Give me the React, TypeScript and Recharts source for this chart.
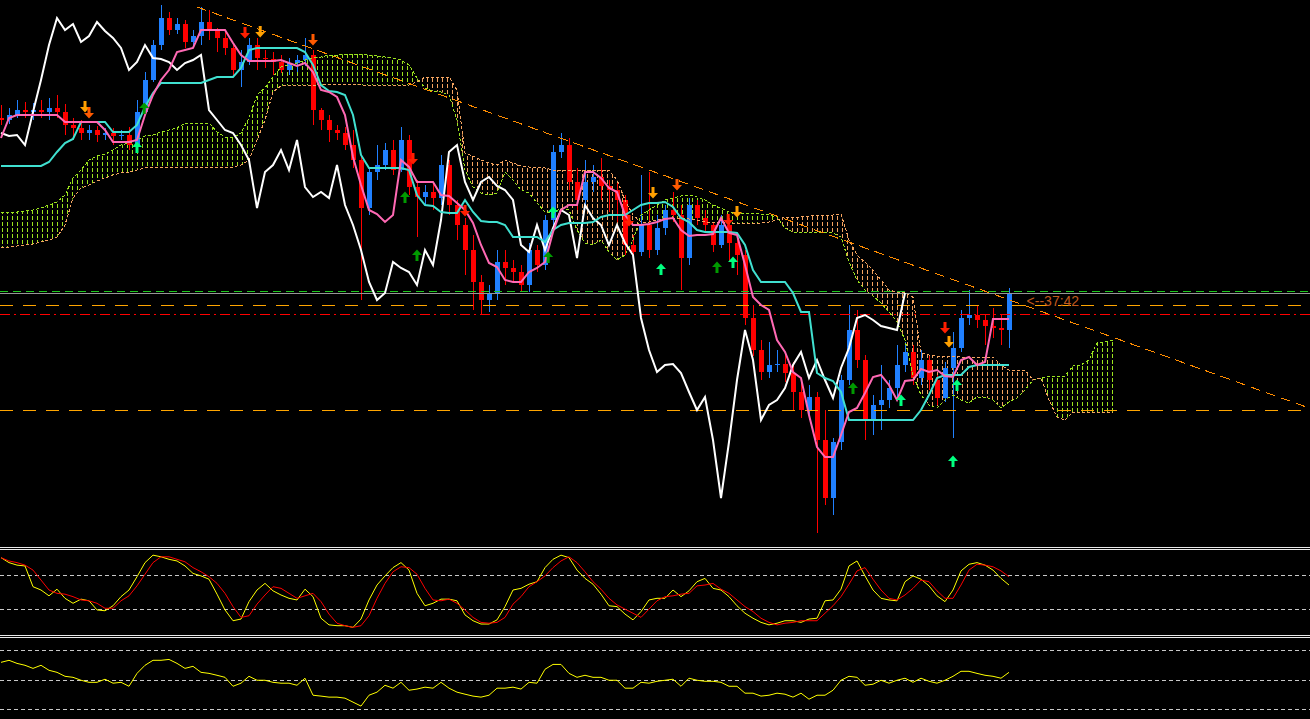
import {
  Area,
  Bar,
  ComposedChart,
  Line,
  LineChart,
  ReferenceDot,
  ReferenceLine,
  Scatter,
  XAxis,
  YAxis,
} from 'recharts'

// prices are in points; one bar slot here = two bars of the terminal
const OPEN = [
  882, 880, 885, 890, 888, 890, 888, 892, 888, 875,
  872, 867, 870, 865, 867, 864, 865, 855, 888, 920,
  955, 982, 970, 976, 958, 964, 978, 969, 962, 952,
  930, 938, 955, 942, 941, 938, 930, 937, 940, 945,
  890, 880, 870, 867, 855, 840, 792, 828, 835, 850,
  830, 860, 813, 803, 808, 802, 835, 795, 775, 750,
  718, 700, 707, 738, 732, 728, 715, 750, 735, 780,
  848, 855, 818, 800, 818, 823, 814, 810, 800, 755,
  748, 775, 750, 772, 790, 785, 742, 795, 782, 775,
  755, 775, 757, 745, 682, 650, 628, 635, 636, 627,
  608, 590, 603, 560, 502, 558, 620, 670, 640, 580,
  595, 600, 612, 635, 648, 622, 640, 620, 602, 632,
  652, 682, 685, 680, 674, 672, 670,
]
const HIGH = [
  895, 892, 900, 898, 897, 900, 902, 905, 896, 882,
  880, 875, 874, 872, 872, 870, 873, 900, 928, 960,
  995, 988, 982, 980, 970, 993, 990, 972, 970, 957,
  950, 962, 962, 950, 948, 945, 942, 945, 962, 950,
  892, 885, 875, 873, 870, 845, 832, 855, 857, 860,
  873, 865, 820, 815, 817, 845, 840, 800, 782, 765,
  725, 715, 750, 750, 740, 735, 757, 755, 785, 855,
  867, 862, 832, 840, 835, 842, 820, 818, 805, 765,
  825, 828, 785, 795, 808, 795, 802, 800, 790, 778,
  785, 782, 762, 750, 695, 660, 658, 650, 647, 638,
  620, 615, 608, 590, 562, 625, 695, 690, 645, 605,
  635, 620, 655, 658, 655, 650, 645, 625, 638, 668,
  690, 710, 695, 685, 692, 685, 712,
]
const LOW = [
  875, 876, 882, 882, 880, 882, 880, 882, 865, 860,
  860, 860, 858, 860, 855, 860, 850, 852, 885, 918,
  950, 965, 966, 952, 954, 955, 960, 948, 945, 925,
  913, 935, 930, 932, 925, 927, 925, 928, 934, 875,
  870, 858, 860, 850, 832, 700, 785, 820, 830, 825,
  828, 805, 763, 795, 790, 795, 785, 760, 725, 690,
  685, 688, 700, 715, 717, 708, 708, 728, 730, 775,
  842, 810, 790, 795, 808, 800, 788, 778, 745, 742,
  744, 742, 745, 765, 778, 710, 735, 775, 768, 748,
  752, 738, 725, 675, 644, 620, 622, 628, 618, 590,
  582, 580, 467, 495, 485, 550, 615, 632, 560, 565,
  570, 592, 600, 628, 615, 615, 610, 595, 598, 562,
  648, 675, 672, 655, 662, 655, 652,
]
const CLOSE = [
  880, 885, 890, 888, 890, 888, 892, 888, 875, 872,
  867, 870, 865, 867, 864, 865, 855, 888, 920, 955,
  982, 970, 976, 958, 964, 978, 969, 962, 952, 930,
  938, 955, 942, 941, 938, 930, 937, 940, 945, 890,
  880, 870, 867, 855, 840, 792, 828, 835, 850, 830,
  860, 813, 803, 808, 802, 835, 795, 775, 750, 718,
  700, 707, 738, 732, 728, 715, 750, 735, 780, 848,
  855, 818, 800, 818, 823, 814, 810, 800, 755, 748,
  775, 750, 772, 790, 785, 742, 795, 782, 775, 755,
  775, 757, 745, 682, 650, 628, 635, 636, 627, 608,
  590, 603, 560, 502, 558, 620, 670, 640, 580, 595,
  600, 612, 635, 648, 622, 640, 620, 602, 632, 652,
  682, 685, 680, 674, 672, 670, 707,
]

const TENKAN = [
  862, 882, 885, 885, 885, 885, 885, 885, 878, 878,
  878, 878, 878, 870, 858, 858, 858, 860, 885, 905,
  920, 930, 948, 950, 952, 970, 970, 970, 970, 957,
  945, 939, 939, 939, 939, 940, 937, 934, 937, 928,
  910, 908, 903, 885, 843, 815, 790, 786, 778, 785,
  840, 833, 818, 818, 818, 805, 804, 797, 790, 777,
  755, 737, 733, 720, 718, 718, 728, 732, 738, 768,
  790, 795, 795, 828, 828, 822, 812, 808, 785, 775,
  775, 776, 778, 781, 782, 770, 764, 765, 765, 766,
  782, 767, 765, 735, 703, 695, 690, 660, 648, 628,
  622, 585, 553, 543, 543, 565, 588, 592, 607, 623,
  625, 615, 600, 619, 620, 631, 628, 630, 624, 623,
  640, 643, 635, 638, 681, 681, 681,
]
const KIJUN = [
  834, 834, 834, 834, 834, 834, 838, 848, 857, 861,
  878, 878, 878, 878, 868, 868, 868, 875, 893, 907,
  917, 917, 917, 917, 917, 917, 920, 923, 923, 923,
  932, 950, 952, 952, 952, 952, 952, 952, 948, 935,
  915, 909, 908, 905, 885, 845, 832, 832, 832, 832,
  832, 830, 805, 795, 794, 788, 787, 787, 800, 788,
  779, 778, 778, 775, 763, 763, 763, 763, 758, 770,
  775, 777, 777, 777, 778, 783, 785, 785, 785, 790,
  795, 797, 797, 798, 793, 782, 778, 770, 768, 768,
  768, 768, 767, 755, 730, 718, 718, 718, 718, 707,
  688, 688, 627, 622, 619, 608, 580, 580, 580, 580,
  580, 580, 580, 580, 580, 590, 605, 622, 625, 625,
  625, 633, 635, 635, 635, 635, 635,
]
// senkou spans, already shifted forward (13 slots past the last bar)
const SPAN_A = [
  787, 788, 788, 789, 790, 792, 795, 798, 805, 822,
  830, 840, 844, 846, 850, 855, 857, 860, 864, 865,
  868, 870, 872, 877, 877, 877, 877, 868, 863, 863,
  867, 882, 905, 912, 923, 933, 935, 937, 940, 942,
  943, 945, 945, 946, 946, 946, 945, 944, 943, 942,
  940, 935, 922, 912, 909, 908, 905, 880, 830, 813,
  807, 805, 807, 828, 820, 810, 807, 797, 788, 787,
  792, 790, 770, 757, 755, 760, 748, 740, 745, 760,
  785, 790, 795, 800, 802, 804, 805, 803, 800, 795,
  792, 788, 787, 787, 787, 786, 785, 783, 772, 768,
  768, 768, 768, 768, 767, 763, 738, 720, 710, 704,
  697, 688, 678, 660, 625, 605, 595, 592, 600, 605,
  600, 597, 603, 603, 600, 592, 598, 602, 610, 620,
  622, 624, 623, 624, 634, 635, 640, 657, 658, 660,
]
const SPAN_B = [
  753, 753, 754, 755, 756, 758, 760, 763, 775, 802,
  812, 815, 819, 822, 825, 827, 828, 830, 832, 833,
  833, 833, 833, 833, 833, 833, 833, 833, 833, 833,
  835, 840, 860, 880, 908, 914, 915, 915, 915, 915,
  915, 916, 916, 916, 916, 915, 915, 915, 915, 915,
  915, 915, 918, 923, 923, 923, 923, 910, 847, 844,
  840, 837, 835, 840, 837, 834, 833, 833, 832, 830,
  830, 830, 830, 830, 830, 830, 830, 820, 800, 785,
  778, 778, 780, 782, 782, 782, 781, 780, 778, 778,
  778, 777, 777, 777, 777, 777, 778, 780, 783, 783,
  783, 784, 785, 785, 785, 786, 760, 745, 738, 730,
  720, 710, 708, 707, 703, 647, 645, 644, 644, 644,
  643, 643, 643, 643, 643, 635, 630, 630, 630, 620,
  622, 600, 583, 580, 588, 588, 588, 588, 588, 588,
]
const CHIKOU_LAG = 13

// signal arrows: bar slot, price, signal strength
const SELL_SIGNALS = [
  { bar: 10.5, price: 893, kind: 'weak' },
  { bar: 11, price: 887, kind: 'mid' },
  { bar: 30.5, price: 967, kind: 'strong' },
  { bar: 32.4, price: 968, kind: 'weak' },
  { bar: 39, price: 960, kind: 'mid' },
  { bar: 51.5, price: 841, kind: 'strong' },
  { bar: 58, price: 789, kind: 'strong' },
  { bar: 78.5, price: 779, kind: 'strong' },
  { bar: 81.5, price: 807, kind: 'weak' },
  { bar: 84.5, price: 815, kind: 'mid' },
  { bar: 90.9, price: 780, kind: 'strong' },
  { bar: 92, price: 788, kind: 'weak' },
  { bar: 118, price: 672, kind: 'strong' },
  { bar: 118.5, price: 658, kind: 'weak' },
]
const BUY_SIGNALS = [
  { bar: 17, price: 853, kind: 'strong' },
  { bar: 17.9, price: 892, kind: 'weak' },
  { bar: 50.5, price: 803, kind: 'weak' },
  { bar: 52, price: 745, kind: 'weak' },
  { bar: 68.4, price: 743, kind: 'weak' },
  { bar: 69, price: 788, kind: 'strong' },
  { bar: 82.5, price: 731, kind: 'strong' },
  { bar: 89.5, price: 733, kind: 'weak' },
  { bar: 91.5, price: 738, kind: 'strong' },
  { bar: 106.5, price: 612, kind: 'weak' },
  { bar: 112.5, price: 600, kind: 'strong' },
  { bar: 119.5, price: 615, kind: 'strong' },
  { bar: 119, price: 539, kind: 'strong' },
]

const LEVEL_HIGH = 709
const LEVEL_BID = 707
const LEVEL_PIVOT = 695
const LEVEL_STOP = 686
const LEVEL_SUPPORT = 590
const TREND_FROM = { bar: 24.5, price: 993 }
const TREND_TO = { bar: 163.5, price: 592 }
const TIMER_TEXT = '<--37:42'

const STOCH_K = [
  92, 86, 83, 82, 57, 53, 46, 54, 43, 37,
  42, 40, 29, 28, 34, 45, 53, 69, 86, 95,
  93, 90, 88, 82, 73, 70, 66, 48, 29, 16,
  18, 39, 53, 61, 52, 47, 43, 41, 54, 45,
  19, 11, 10, 10, 8, 18, 41, 59, 70, 80,
  86, 77, 49, 34, 37, 42, 42, 40, 23, 16,
  12, 12, 17, 33, 53, 55, 60, 63, 80, 90,
  95, 92, 77, 67, 60, 48, 34, 33, 24, 17,
  27, 41, 43, 43, 53, 45, 52, 63, 67, 55,
  53, 45, 34, 25, 19, 14, 11, 13, 16, 16,
  14, 18, 19, 40, 41, 54, 82, 88, 70, 53,
  43, 41, 40, 63, 70, 66, 58, 46, 39, 53,
  76, 84, 86, 83, 77, 67, 59,
]
const STOCH_D = [
  92, 88, 86, 83, 77, 65, 53, 49, 48, 45,
  41, 40, 37, 31, 31, 40, 46, 58, 72, 86,
  93, 93, 90, 87, 80, 75, 69, 61, 49, 33,
  20, 22, 36, 47, 57, 55, 49, 43, 46, 49,
  39, 24, 13, 10, 8, 10, 22, 43, 61, 75,
  81, 80, 72, 55, 41, 40, 42, 37, 29, 20,
  14, 13, 14, 20, 36, 45, 57, 63, 70, 80,
  88, 93, 86, 75, 63, 54, 43, 35, 30, 25,
  20, 30, 40, 45, 46, 48, 49, 58, 59, 61,
  54, 49, 41, 33, 27, 19, 14, 11, 13, 14,
  16, 16, 16, 25, 34, 45, 60, 76, 80, 66,
  53, 43, 41, 47, 55, 65, 63, 52, 43, 43,
  59, 77, 84, 83, 81, 76, 69,
]
const RSI = [
  62.2, 63.6, 61.5, 60.2, 58.1, 60.2, 56.8, 55.4, 52.7, 52.0,
  50.0, 48.6, 48.6, 50.7, 48.0, 48.6, 45.9, 54.7, 60.2, 63.6,
  63.6, 64.2, 61.5, 58.1, 59.5, 55.4, 54.7, 53.4, 52.0, 45.9,
  48.0, 52.7, 50.0, 50.0, 48.6, 48.0, 48.0, 46.6, 51.4, 39.8,
  39.2, 38.5, 38.5, 37.8, 35.1, 32.4, 39.8, 41.9, 46.6, 44.6,
  48.6, 43.2, 44.0, 45.3, 44.6, 48.6, 44.6, 41.9, 40.5, 39.2,
  38.5, 39.8, 44.6, 44.6, 45.3, 44.0, 48.6, 48.0, 57.5, 60.8,
  60.8, 54.7, 52.0, 53.4, 52.0, 52.0, 50.0, 50.0, 44.6, 44.6,
  48.6, 48.0, 49.3, 50.0, 50.7, 45.9, 51.4, 50.0, 49.3, 49.3,
  48.6, 45.9, 45.9, 41.2, 41.2, 39.2, 39.8, 41.2, 40.5, 38.5,
  41.2, 37.1, 39.8, 39.8, 43.2, 50.0, 52.7, 52.0, 46.6, 47.3,
  50.0, 48.0, 50.0, 51.4, 48.6, 51.4, 49.3, 48.0, 50.0, 52.7,
  56.1, 56.1, 54.7, 53.4, 52.7, 51.4, 55.4,
]
const STOCH_LEVELS = [70, 30]
const RSI_LEVELS = [70, 50, 30]

const UP = '#2080ff'
const DOWN = '#ff0000'
const BULL_CLOUD = '#9be31e'
const BEAR_CLOUD = '#f4a460'
const SELL_COLORS: Record<string, string> = { strong: '#ff1e00', mid: '#ff5a00', weak: '#ffa000' }
const BUY_COLORS: Record<string, string> = { strong: '#00ff7f', weak: '#009a00' }
const X_DOMAIN: [number, number] = [-0.125, 163.625]
const NO_MARGIN = { top: 0, right: 0, bottom: 0, left: 0 }
const CRISP = 'crispEdges'

const priceRows = SPAN_A.map((a, i) => {
  const b = SPAN_B[i]
  const hasBar = i < CLOSE.length
  return {
    i,
    o: OPEN[i],
    h: HIGH[i],
    l: LOW[i],
    c: CLOSE[i],
    range: hasBar ? [LOW[i], HIGH[i]] : null,
    tenkan: TENKAN[i] ?? null,
    kijun: KIJUN[i] ?? null,
    chikou: CLOSE[i + CHIKOU_LAG] ?? null,
    spanA: a,
    spanB: b,
    bull: a >= b ? [b, a] : [a, a],
    bear: b > a ? [a, b] : [b, b],
  }
})

const sellData = SELL_SIGNALS.map((s) => ({ i: s.bar, p: s.price, kind: s.kind }))
const buyData = BUY_SIGNALS.map((s) => ({ i: s.bar, p: s.price, kind: s.kind }))
const stochRows = STOCH_K.map((k, i) => ({ i, k, d: STOCH_D[i] }))
const rsiRows = RSI.map((v, i) => ({ i, v }))

function Candle(props: any) {
  const { x, y, width, height, payload } = props
  if (!payload || payload.c == null || !Number.isFinite(y) || !Number.isFinite(height)) return <g />
  const top = Math.min(y, y + height)
  const full = Math.abs(height)
  const k = full / (payload.h - payload.l || 1)
  const color = payload.c >= payload.o ? UP : DOWN
  const bodyTop = Math.round(top + (payload.h - Math.max(payload.o, payload.c)) * k)
  const bodyH = Math.max(1, Math.round(Math.abs(payload.c - payload.o) * k))
  const cx = Math.round(x + width / 2) + 0.5
  return (
    <g shapeRendering={CRISP}>
      <line x1={cx} x2={cx} y1={Math.round(top)} y2={Math.round(top + full)} stroke={color} strokeWidth={1} />
      <rect x={cx - 2.5} y={bodyTop} width={5} height={bodyH} fill={color} />
    </g>
  )
}

function SellArrow(props: any) {
  const { cx, cy, payload } = props
  if (!Number.isFinite(cx)) return <g />
  const d = `M${cx - 1.5},${cy - 6} L${cx + 1.5},${cy - 6} L${cx + 1.5},${cy} L${cx + 5},${cy} L${cx},${cy + 5.5} L${cx - 5},${cy} L${cx - 1.5},${cy} Z`
  return <path d={d} fill={SELL_COLORS[payload.kind]} />
}

function BuyArrow(props: any) {
  const { cx, cy, payload } = props
  if (!Number.isFinite(cx)) return <g />
  const d = `M${cx - 1.5},${cy + 6} L${cx + 1.5},${cy + 6} L${cx + 1.5},${cy} L${cx + 5},${cy} L${cx},${cy - 5.5} L${cx - 5},${cy} L${cx - 1.5},${cy} Z`
  return <path d={d} fill={BUY_COLORS[payload.kind]} />
}

function Separator({ top }: { top: number }) {
  return <div style={{ position: 'absolute', left: 0, top, width: 1310, height: 1, background: '#e8e8e8' }} />
}

export default function App() {
  return (
    <div
      style={{
        position: 'absolute',
        left: 0,
        top: 0,
        width: 1310,
        height: 719,
        background: '#000',
        overflow: 'hidden',
        fontFamily: '"Liberation Sans", Arial, sans-serif',
      }}
    >
      <div style={{ position: 'absolute', left: 0, top: 0 }}>
        <ComposedChart width={1310} height={545} data={priceRows} margin={NO_MARGIN}>
          <defs>
            <pattern id="hatchBull" width="5" height="6" patternUnits="userSpaceOnUse">
              <rect x="2" y="0" width="1" height="4" fill={BULL_CLOUD} shapeRendering={CRISP} />
            </pattern>
            <pattern id="hatchBear" width="5" height="6" patternUnits="userSpaceOnUse">
              <rect x="2" y="0" width="1" height="4" fill={BEAR_CLOUD} shapeRendering={CRISP} />
            </pattern>
          </defs>
          <XAxis type="number" dataKey="i" domain={X_DOMAIN} allowDataOverflow hide />
          <YAxis type="number" domain={[455, 1000]} allowDataOverflow hide />
          <Area dataKey="bull" type="linear" stroke="none" fill="url(#hatchBull)" fillOpacity={1} dot={false} activeDot={false} isAnimationActive={false} />
          <Area dataKey="bear" type="linear" stroke="none" fill="url(#hatchBear)" fillOpacity={1} dot={false} activeDot={false} isAnimationActive={false} />
          <Line dataKey="spanA" type="linear" stroke={BULL_CLOUD} strokeWidth={1} strokeDasharray="3 2" shapeRendering={CRISP} dot={false} activeDot={false} isAnimationActive={false} />
          <Line dataKey="spanB" type="linear" stroke={BEAR_CLOUD} strokeWidth={1} strokeDasharray="3 2" shapeRendering={CRISP} dot={false} activeDot={false} isAnimationActive={false} />
          <ReferenceLine y={LEVEL_HIGH} stroke="#1ec81e" strokeDasharray="8 5" shapeRendering={CRISP} />
          <ReferenceLine y={LEVEL_BID} stroke="#969696" shapeRendering={CRISP} />
          <ReferenceLine y={LEVEL_PIVOT} stroke="#ffa500" strokeDasharray="13 10" shapeRendering={CRISP} />
          <ReferenceLine y={LEVEL_STOP} stroke="#ff0000" strokeDasharray="10 4 2 4" shapeRendering={CRISP} />
          <ReferenceLine y={LEVEL_SUPPORT} stroke="#ffa500" strokeDasharray="13 10" shapeRendering={CRISP} />
          <ReferenceLine
            segment={[
              { x: TREND_FROM.bar, y: TREND_FROM.price },
              { x: TREND_TO.bar, y: TREND_TO.price },
            ]}
            stroke="#ff8c00"
            strokeDasharray="10 6"
            shapeRendering={CRISP}
          />
          <Bar dataKey="range" barSize={5} shape={(p: any) => <Candle {...p} />} isAnimationActive={false} />
          <Line dataKey="chikou" type="linear" stroke="#ffffff" strokeWidth={2} dot={false} activeDot={false} isAnimationActive={false} />
          <Line dataKey="kijun" type="linear" stroke="#40e0d0" strokeWidth={2} dot={false} activeDot={false} isAnimationActive={false} />
          <Line dataKey="tenkan" type="linear" stroke="#ff69b4" strokeWidth={2} dot={false} activeDot={false} isAnimationActive={false} />
          <Scatter data={sellData} dataKey="p" shape={(p: any) => <SellArrow {...p} />} isAnimationActive={false} />
          <Scatter data={buyData} dataKey="p" shape={(p: any) => <BuyArrow {...p} />} isAnimationActive={false} />
          <ReferenceDot
            x={128.2}
            y={699}
            r={0}
            fill="none"
            stroke="none"
            label={{ value: TIMER_TEXT, position: 'right', offset: 0, fill: '#c05a1e', fontSize: 14 }}
          />
        </ComposedChart>
      </div>

      <Separator top={547} />
      <Separator top={549} />

      <div style={{ position: 'absolute', left: 0, top: 551 }}>
        <LineChart width={1310} height={83} data={stochRows} margin={NO_MARGIN}>
          <XAxis type="number" dataKey="i" domain={X_DOMAIN} allowDataOverflow hide />
          <YAxis type="number" domain={[0, 100]} allowDataOverflow hide />
          {STOCH_LEVELS.map((lv) => (
            <ReferenceLine key={lv} y={lv} stroke="#c8c8c8" strokeDasharray="4 3" shapeRendering={CRISP} />
          ))}
          <Line dataKey="k" type="linear" stroke="#ffff00" strokeWidth={1} dot={false} activeDot={false} isAnimationActive={false} />
          <Line dataKey="d" type="linear" stroke="#ff0000" strokeWidth={1} dot={false} activeDot={false} isAnimationActive={false} />
        </LineChart>
      </div>

      <Separator top={635} />
      <Separator top={637} />

      <div style={{ position: 'absolute', left: 0, top: 638 }}>
        <LineChart width={1310} height={81} data={rsiRows} margin={NO_MARGIN}>
          <XAxis type="number" dataKey="i" domain={X_DOMAIN} allowDataOverflow hide />
          <YAxis type="number" domain={[23.6, 78.8]} allowDataOverflow hide />
          {RSI_LEVELS.map((lv) => (
            <ReferenceLine key={lv} y={lv} stroke="#c8c8c8" strokeDasharray="4 3" shapeRendering={CRISP} />
          ))}
          <Line dataKey="v" type="linear" stroke="#ffff00" strokeWidth={1} dot={false} activeDot={false} isAnimationActive={false} />
        </LineChart>
      </div>
    </div>
  )
}
